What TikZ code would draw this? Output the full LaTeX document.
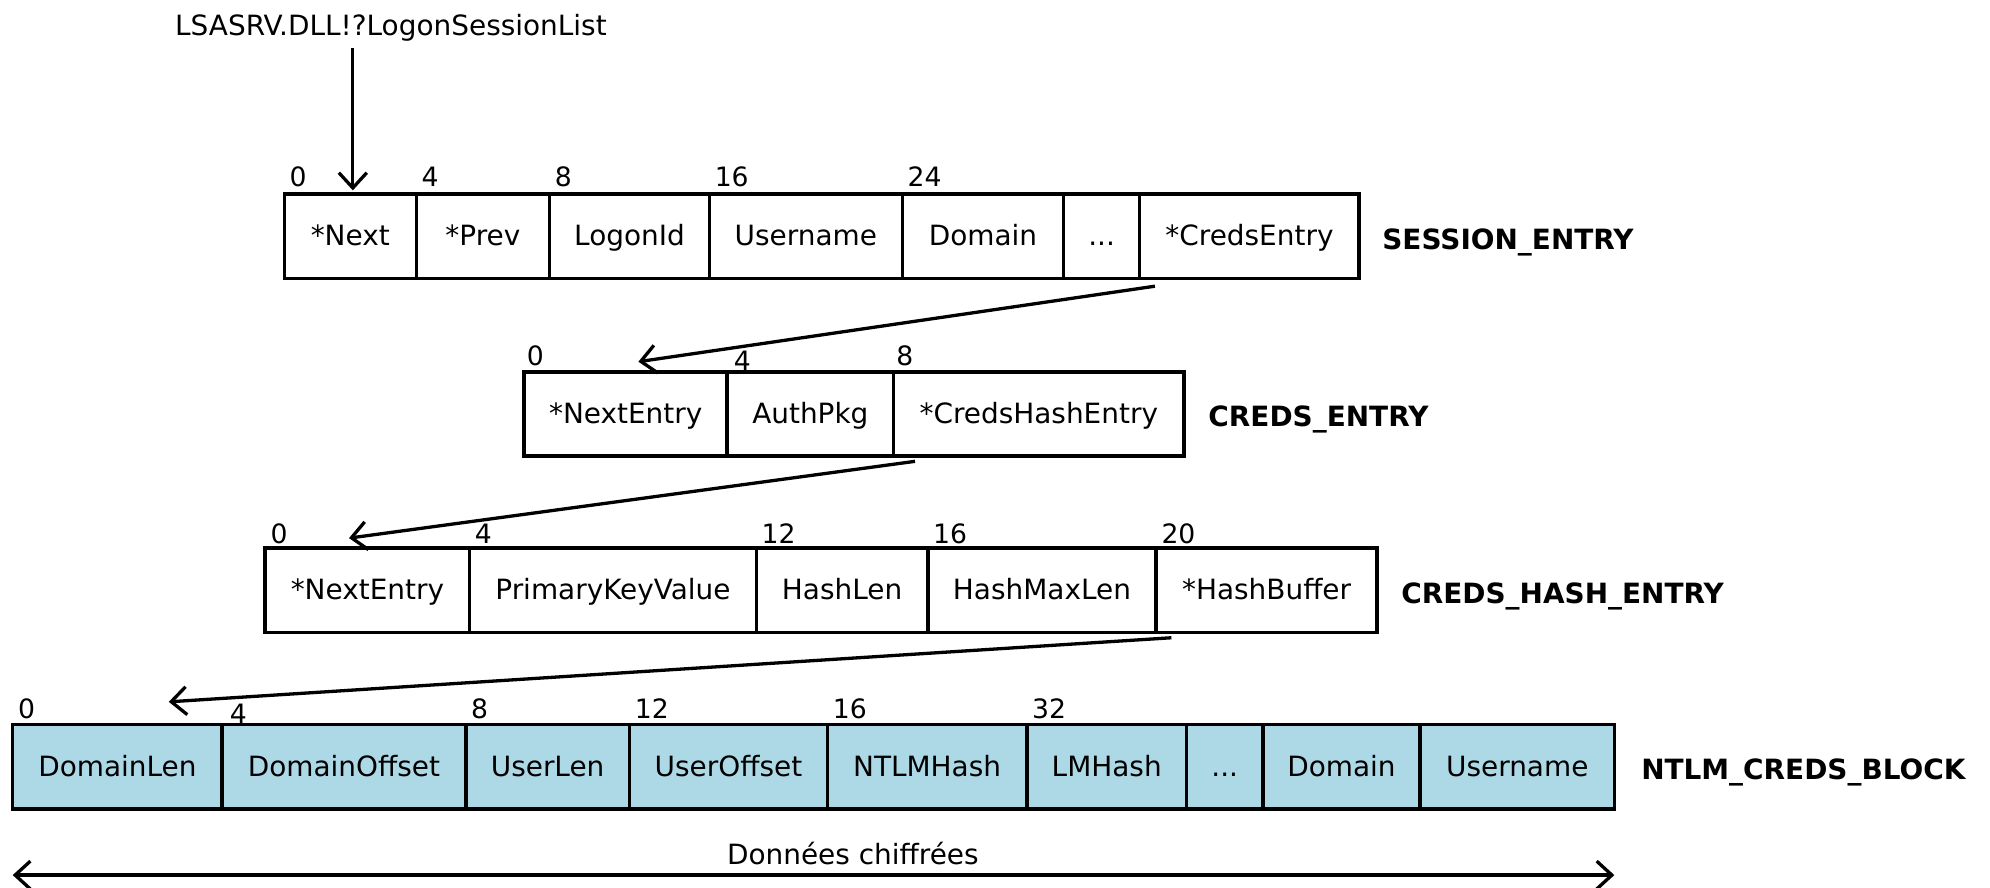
\documentclass[tikz,border=0pt]{standalone}
\usepackage{fontspec}
\setmainfont{DejaVu Sans}
\usetikzlibrary{arrows.meta}
\definecolor{cellblue}{HTML}{ADD8E6}
\begin{document}
\begin{tikzpicture}[x=1pt,y=-1pt,
  cell/.style={draw, line width=2.8pt, inner sep=0pt, outer sep=0pt,
    anchor=north west, minimum height=66.5pt, text height=16pt, text depth=1pt,
    font=\fontsize{22}{26}\selectfont},
  bluecell/.style={cell, fill=cellblue},
  offs/.style={anchor=base west, inner sep=0pt, font=\fontsize{21}{25}\selectfont},
  title/.style={anchor=base west, inner sep=0pt, font=\fontsize{22}{26}\selectfont\bfseries},
  arr/.style={line width=2.6pt, -{Straight Barb[length=12pt,width=22pt]}},
  dblarr/.style={line width=2.6pt, {Straight Barb[length=12pt,width=22pt]}-{Straight Barb[length=12pt,width=22pt]}}]
\useasboundingbox (0,0) rectangle (1568,699);

% SESSION_ENTRY
\foreach \a/\b/\t [count=\i] in {224/328/{*Next}, 328/433/{*Prev}, 433/559/{LogonId},
    559/711/{Username}, 711/838/{Domain}, 838/898/{...}, 898/1071/{*CredsEntry}}
  \node[cell, minimum width={(\b-\a)*1pt}] (s\i) at (\a,153) {\t};
\foreach \c/\t in {s1/0, s2/4, s3/8, s4/16, s5/24}
  \node[offs] (o\c) at ([shift={(4,-6)}]\c.north west) {\t};
\node[title] (tsession) at ([shift={(18,10)}]s7.east) {SESSION\_ENTRY};

% CREDS_ENTRY
\foreach \a/\b/\t [count=\i] in {413/573/{*NextEntry}, 573/704/{AuthPkg}, 704/933/{*CredsHashEntry}}
  \node[cell, minimum width={(\b-\a)*1pt}] (c\i) at (\a,293) {\t};
\node[offs] (oc1) at ([shift={(2,-5)}]c1.north west) {0};
\node[offs] (oc2) at ([shift={(5,-1)}]c2.north west) {4};
\node[offs] (oc3) at ([shift={(2,-5)}]c3.north west) {8};
\node[title] (tcreds) at ([shift={(19,10)}]c3.east) {CREDS\_ENTRY};

% CREDS_HASH_ENTRY
\foreach \a/\b/\t [count=\i] in {209/370/{*NextEntry}, 370/596/{PrimaryKeyValue}, 596/731/{HashLen},
    731/911/{HashMaxLen}, 911/1085/{*HashBuffer}}
  \node[cell, minimum width={(\b-\a)*1pt}] (h\i) at (\a,432) {\t};
\foreach \c/\t in {h1/0, h2/4, h3/12, h4/16, h5/20}
  \node[offs] (o\c) at ([shift={(4,-4)}]\c.north west) {\t};
\node[title] (thash) at ([shift={(19,10)}]h5.east) {CREDS\_HASH\_ENTRY};

% NTLM_CREDS_BLOCK
\foreach \a/\b/\t [count=\i] in {10/175/{DomainLen}, 175/367/{DomainOffset}, 367/496/{UserLen},
    496/652/{UserOffset}, 652/809/{NTLMHash}, 809/935/{LMHash}, 935/995/{...},
    995/1119/{Domain}, 1119/1272/{Username}}
  \node[bluecell, minimum width={(\b-\a)*1pt}] (n\i) at (\a,571) {\t};
\foreach \c/\t in {n1/0, n3/8, n4/12, n5/16, n6/32}
  \node[offs] (o\c) at ([shift={(4,-5)}]\c.north west) {\t};
\node[offs] (on2) at ([shift={(6,-1)}]n2.north west) {4};
\node[title] (tntlm) at ([shift={(21,10)}]n9.east) {NTLM\_CREDS\_BLOCK};

% list head pointer
\node[anchor=base, inner sep=0pt, font=\fontsize{22}{26}\selectfont] (lsa) at (308,28) {LSASRV.DLL!?LogonSessionList};
\draw[arr] ([shift={(54,-115)}]s1.north west) -- ([shift={(54,-3)}]s1.north west);

% pointers between the structures
\draw[arr] ([shift={(12,6)}]s7.south west) -- ([shift={(90,-8)}]c1.north west);
\draw[arr] ([shift={(17,4)}]c3.south west) -- ([shift={(66,-8)}]h1.north west);
\draw[arr] ([shift={(12,4)}]h5.south west) -- ([shift={(123,-18)}]n1.north west);

% encrypted span
\draw[dblarr] ([shift={(0,52)}]n1.south west) -- ([shift={(0,52)}]n9.south east);
\draw[line width=3.6pt] ([shift={(545,52)}]n1.south west) -- ([shift={(615,52)}]n1.south west);
\node[anchor=base, inner sep=0pt, font=\fontsize{22}{26}\selectfont] (enc) at (672,681) {Données chiffrées};
\end{tikzpicture}
\end{document}
